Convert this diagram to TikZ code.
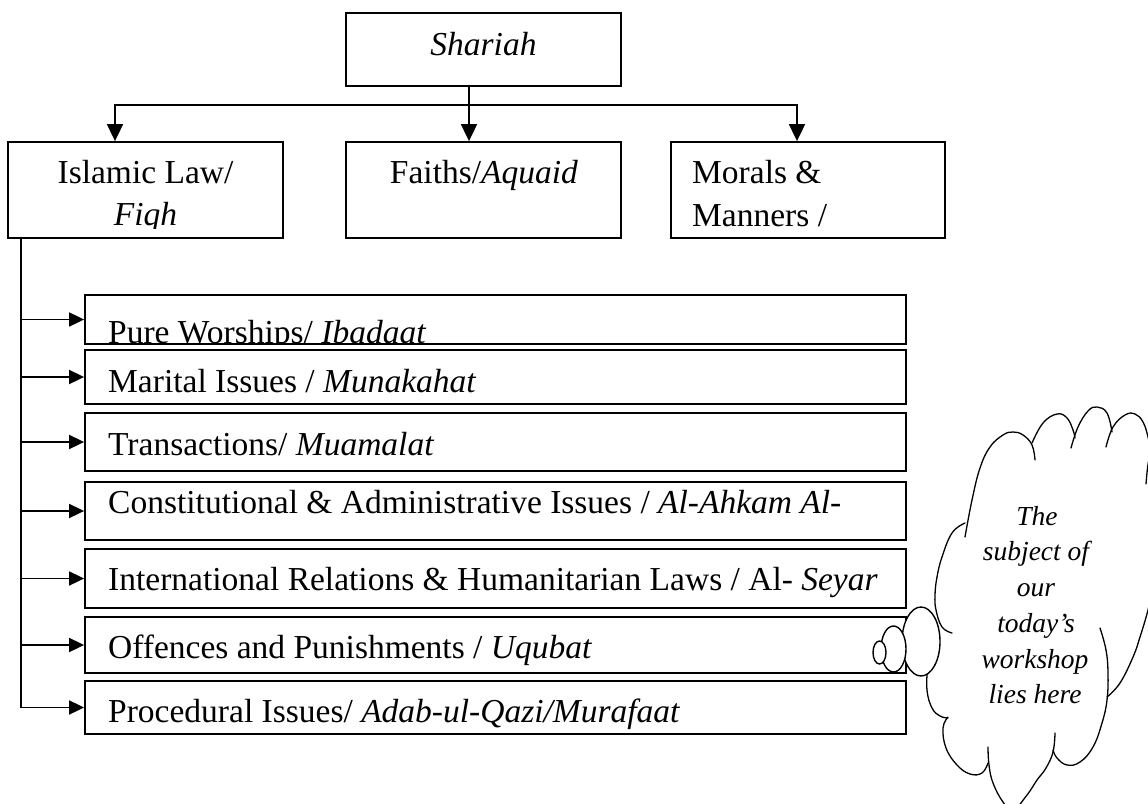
\documentclass[tikz,border=0pt]{standalone}
\usepackage{fontspec}
\setmainfont{Liberation Serif}
\usetikzlibrary{arrows.meta}
\begin{document}
\begin{tikzpicture}[x=1pt,y=-1pt,
  box/.style={draw,line width=1.8pt,inner sep=0pt},
  txt/.style={inner sep=0pt,font=\fontsize{33.5}{40}\selectfont},
  ctxt/.style={inner sep=0pt,anchor=base,font=\fontsize{27.5}{34}\selectfont\itshape},
  arr/.style={line width=1.8pt,-{Triangle[length=17pt,width=16pt]}},
  larr/.style={line width=1.8pt,-{Triangle[length=15pt,width=14pt]}},
  cl/.style={line width=1.3pt,line cap=round},
  bub/.style={line width=1.4pt,fill=white}]
\useasboundingbox (0,0) rectangle (1148,803);

% top level
\node[box,minimum width=275pt,minimum height=73pt] (shariah) at (483.5,49.5) {};
\node[txt,anchor=base] (tshariah) at (483.5,55) {\itshape Shariah};

\node[box,minimum width=275pt,minimum height=96pt] (islamic) at (145.5,190) {};
\node[box,minimum width=275pt,minimum height=96pt] (faiths) at (483.5,190) {};
\node[box,minimum width=274pt,minimum height=96pt] (morals) at (808,190) {};

\node[txt,anchor=base] (tislamic) at (145.5,183) {Islamic Law/};
\node[txt,anchor=base] (tfaiths) at (484,183) {Faiths/\textit{Aquaid}};
\node[txt,anchor=base west] (tmorals) at (692,183) {Morals \&};
\begin{scope}
  \clip (0,143) rectangle (1148,228);
  \node[txt,anchor=base] (tfiqh) at (145.5,225) {\itshape Fiqh};
  \node[txt,anchor=base west] (tmanners) at (692,226) {Manners /};
\end{scope}

\coordinate (tx) at (469,0);
\coordinate (lx) at (115,0);
\coordinate (mx) at (797,0);
\coordinate (hub) at (469,105);
\draw[arr] (shariah.south -| tx) -- (faiths.north -| tx);
\draw[arr] (hub) -| (islamic.north -| lx);
\draw[arr] (hub) -| (morals.north -| mx);

% list of branches
\node[box,minimum width=821pt,minimum height=49pt] (b1) at (495.5,319.5) {};
\node[box,minimum width=821pt,minimum height=54pt] (b2) at (495.5,377) {};
\node[box,minimum width=821pt,minimum height=58pt] (b3) at (495.5,442) {};
\node[box,minimum width=821pt,minimum height=58pt] (b4) at (495.5,511) {};
\node[box,minimum width=821pt,minimum height=59pt] (b5) at (495.5,578.5) {};
\node[box,minimum width=821pt,minimum height=56pt] (b6) at (495.5,645) {};
\node[box,minimum width=821pt,minimum height=53pt] (b7) at (495.5,707.5) {};

\begin{scope}
  \clip (85,296) rectangle (906,342.5);
  \node[txt,anchor=base west] (t1) at (108,343) {Pure Worships/ \textit{Ibadaat}};
\end{scope}
\node[txt,anchor=base west] (t2) at (108,392) {Marital Issues / \textit{Munakahat}};
\node[txt,anchor=base west] (t3) at (108,455) {Transactions/ \textit{Muamalat}};
\node[txt,anchor=base west] (t4) at (108,513) {Constitutional \& Administrative Issues / \textit{Al-Ahkam Al-}};
\node[txt,anchor=base west] (t5) at (108,590) {International Relations \& Humanitarian Laws / Al- \textit{Seyar}};
\node[txt,anchor=base west] (t6) at (108,658) {Offences and Punishments / \textit{Uqubat}};
\node[txt,anchor=base west] (t7) at (108,722) {Procedural Issues/ \textit{Adab-ul-Qazi/Murafaat}};

\coordinate (trunk) at (21,0);
\foreach \i in {1,...,7} \draw[larr] (islamic.south -| trunk) |- (b\i.west);

% cloud callout
\draw[cl] plot[smooth,tension=0.7] coordinates {(965,537) (972,500) (980,468) (990,447) (1003,435) (1013,432) (1023,435) (1032,445) (1035,460)};
\draw[cl] plot[smooth,tension=0.7] coordinates {(1032,443) (1043,423) (1057,414) (1067,418) (1073,430) (1075,438)};
\draw[cl] plot[smooth,tension=0.7] coordinates {(1071,448) (1078,427) (1088,411) (1097,407) (1107,413) (1112,432)};
\draw[cl] plot[smooth,tension=0.7] coordinates {(1106,447) (1113,427) (1125,415) (1135,414) (1143,422) (1148,437) (1150,450) (1147.5,468) (1146,484)};
\draw[cl] plot[smooth,tension=0.7] coordinates {(1158,540) (1152,590) (1148,610) (1140,637) (1133,657) (1120,683) (1107,697)};
\draw[cl] plot[smooth,tension=0.7] coordinates {(1100,628) (1106,650) (1108,673) (1107,700) (1102,723) (1093,747) (1080,762) (1067,765) (1057,758) (1053,750)};
\draw[cl] plot[smooth,tension=0.7] coordinates {(1055,733) (1053,752) (1046,768) (1037,780) (1027,795) (1013,810) (1003,802) (993,783) (989,765) (988,747)};
\draw[cl] plot[smooth,tension=0.7] coordinates {(948,717) (943,728) (946,748) (957,765) (970,774) (982,773) (988,763)};
\draw[cl] plot[smooth,tension=0.7] coordinates {(933,648) (928,667) (927,690) (932,708) (940,716) (948,718)};
\draw[cl] plot[smooth,tension=0.7] coordinates {(952,633) (942,627) (936,610) (935,595) (937,577) (942,557) (952,533) (965,523)};

\draw[bub] (921,641.5) ellipse [x radius=19pt,y radius=34.5pt];
\draw[bub] (893.5,649) ellipse [x radius=12.5pt,y radius=23pt];
\draw[bub] (879.5,652.5) ellipse [x radius=6.5pt,y radius=11.5pt];

\node[ctxt] (c1) at (1037,525) {The};
\node[ctxt] (c2) at (1036,560) {subject of};
\node[ctxt] (c3) at (1036,596) {our};
\node[ctxt] (c4) at (1036,632) {today’s};
\node[ctxt] (c5) at (1035,668) {workshop};
\node[ctxt] (c6) at (1035,703) {lies here};
\end{tikzpicture}
\end{document}
